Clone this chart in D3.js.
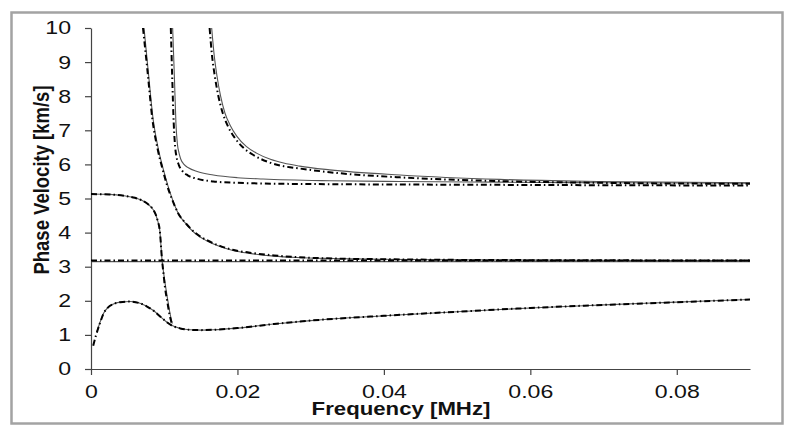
<!DOCTYPE html>
<html>
<head>
<meta charset="utf-8">
<script src="https://cdn.jsdelivr.net/npm/d3@7"></script>
<style>
  body { margin: 0; background: #fff; }
  svg { display: block; }
  text { font-family: "Liberation Sans", Arial, sans-serif; fill: #111; }
</style>
</head>
<body>
<svg id="chart"></svg>
<script>
var svg_width = 795
var svg_height = 435

// axis ticks
var xTicks = [0, 0.02, 0.04, 0.06, 0.08]
var yTicks = [0, 1, 2, 3, 4, 5, 6, 7, 8, 9, 10]

// fundamental mode (rises to ~2, dips, then slow rise)
var m1Freq = [0.0008, 0.0012, 0.0017, 0.0023, 0.0030, 0.0040, 0.0053, 0.0065, 0.0076, 0.0086, 0.0094, 0.0102, 0.0110, 0.0122, 0.0135, 0.0150, 0.0167, 0.020, 0.025, 0.030, 0.040, 0.050, 0.060, 0.070, 0.080, 0.090]
var m1Vel  = [1.09, 1.35, 1.63, 1.80, 1.90, 1.96, 1.98, 1.94, 1.84, 1.70, 1.55, 1.40, 1.28, 1.19, 1.15, 1.14, 1.15, 1.20, 1.32, 1.42, 1.56, 1.68, 1.79, 1.88, 1.96, 2.04]
var m1FreqDD = [0.0003, 0.0007, 0.0012, 0.0017, 0.0023, 0.0030, 0.0040, 0.0053, 0.0065, 0.0076, 0.0086, 0.0094, 0.0102, 0.0110, 0.0122, 0.0135, 0.0150, 0.0167, 0.020, 0.025, 0.030, 0.040, 0.050, 0.060, 0.070, 0.080, 0.090]
var m1VelDD  = [0.68, 1.00, 1.33, 1.62, 1.80, 1.90, 1.96, 1.98, 1.94, 1.84, 1.70, 1.55, 1.40, 1.28, 1.19, 1.15, 1.14, 1.15, 1.20, 1.32, 1.42, 1.56, 1.68, 1.79, 1.88, 1.96, 2.04]

// mode starting at 5.13, dropping sharply
var m2Freq = [0, 0.0025, 0.0045, 0.0060, 0.0070, 0.0078, 0.0084, 0.0088, 0.0091, 0.0094, 0.0097, 0.0099, 0.0102, 0.0105, 0.0108, 0.0111]
var m2Vel  = [5.13, 5.12, 5.08, 5.02, 4.94, 4.83, 4.70, 4.55, 4.35, 4.05, 3.20, 2.85, 2.40, 2.00, 1.62, 1.33]
var m2FreqDD = [0, 0.0025, 0.0045, 0.0060, 0.0070, 0.0078, 0.0084, 0.0088, 0.0091, 0.0094, 0.0097, 0.0099, 0.0101, 0.0104, 0.0107, 0.0110]
var m2VelDD  = [5.13, 5.12, 5.08, 5.02, 4.94, 4.83, 4.70, 4.55, 4.35, 4.05, 3.20, 2.80, 2.40, 2.00, 1.62, 1.36]

// flat line near shear velocity
var hFreq = [0, 0.09]
var hVel = [3.15, 3.15]
var hVelDD = [3.18, 3.18]

// mode 3 (from top, down to ~3.2)
var m3Freq = [0.00724, 0.0078, 0.0085, 0.0092, 0.0099, 0.0105, 0.01115, 0.0119, 0.0130, 0.0142, 0.0158, 0.0176, 0.0195, 0.0217, 0.025, 0.0281, 0.033, 0.0395, 0.050, 0.065, 0.090]
var m3Vel  = [10, 8.77, 7.30, 6.45, 5.84, 5.38, 4.96, 4.57, 4.25, 3.98, 3.76, 3.59, 3.47, 3.39, 3.31, 3.27, 3.24, 3.22, 3.20, 3.19, 3.18]
var m3FreqDD = [0.0071, 0.0077, 0.0084, 0.0091, 0.0098, 0.0104, 0.0111, 0.0119, 0.0130, 0.0142, 0.0158, 0.0176, 0.0195, 0.0217, 0.025, 0.0281, 0.033, 0.0395, 0.050, 0.065, 0.090]
var m3VelDD  = [10, 8.77, 7.30, 6.45, 5.84, 5.38, 4.96, 4.57, 4.26, 4.00, 3.78, 3.61, 3.49, 3.41, 3.33, 3.28, 3.24, 3.22, 3.20, 3.19, 3.18]

// mode 4
var m4Freq = [0.01115, 0.0114, 0.0116, 0.0118, 0.0120, 0.01225, 0.0127, 0.0133, 0.0145, 0.0167, 0.020, 0.0235, 0.0326, 0.0422, 0.0558, 0.070, 0.090]
var m4Vel  = [10, 8.5, 7.2, 6.6, 6.35, 6.16, 6.00, 5.90, 5.79, 5.69, 5.61, 5.57, 5.52, 5.50, 5.48, 5.46, 5.45]
var m4FreqDD = [0.0109, 0.0111, 0.0113, 0.0115, 0.0117, 0.0120, 0.0125, 0.0132, 0.0145, 0.0167, 0.020, 0.0235, 0.0326, 0.0422, 0.0558, 0.070, 0.090]
var m4VelDD  = [10, 8.5, 7.2, 6.5, 6.2, 5.98, 5.80, 5.68, 5.58, 5.50, 5.46, 5.44, 5.42, 5.41, 5.40, 5.39, 5.38]

// mode 5
var m5Freq = [0.01648, 0.0168, 0.0172, 0.0177, 0.0183, 0.0190, 0.0199, 0.0212, 0.0226, 0.0245, 0.0263, 0.0285, 0.0326, 0.0422, 0.0558, 0.0695, 0.090]
var m5Vel  = [10, 9.25, 8.60, 8.00, 7.50, 7.15, 6.83, 6.53, 6.33, 6.15, 6.04, 5.95, 5.84, 5.69, 5.56, 5.50, 5.46]
var m5FreqDD = [0.0162, 0.0165, 0.0169, 0.0174, 0.0180, 0.0187, 0.0196, 0.0209, 0.0223, 0.0242, 0.0260, 0.0285, 0.0326, 0.0422, 0.0558, 0.0695, 0.090]
var m5VelDD  = [10, 9.25, 8.60, 8.00, 7.50, 7.12, 6.79, 6.47, 6.26, 6.07, 5.96, 5.88, 5.77, 5.62, 5.51, 5.46, 5.43]

var solidCurves = [[m1Freq, m1Vel], [m2Freq, m2Vel], [hFreq, hVel], [m3Freq, m3Vel], [m4Freq, m4Vel], [m5Freq, m5Vel]]
var dashCurves = [[m1FreqDD, m1VelDD], [m2FreqDD, m2VelDD], [hFreq, hVelDD], [m3FreqDD, m3VelDD], [m4FreqDD, m4VelDD], [m5FreqDD, m5VelDD]]

var plotLeft = 91, plotRight = 750, plotTop = 28, plotBottom = 369
var stretch = 1.25

var svg = d3.select("#chart")
.attr("width", svg_width)
.attr("height", svg_height)

// outer frame
svg.append("rect")
.attr("x", 11.5).attr("y", 12.5)
.attr("width", 771).attr("height", 411)
.attr("fill", "none")
.attr("stroke", "#a3a3a3")
.attr("stroke-width", 2.5)

var x = d3.scaleLinear().domain([0, 0.09]).range([plotLeft, plotRight])
var y = d3.scaleLinear().domain([0, 10]).range([plotBottom, plotTop])

svg.append("defs").append("clipPath").attr("id", "plotclip")
.append("rect")
.attr("x", plotLeft).attr("y", plotTop)
.attr("width", plotRight - plotLeft).attr("height", plotBottom - plotTop)

// axes
var xAxis = svg.append("g")
.attr("transform", "translate(0," + plotBottom + ")")
.call(d3.axisBottom(x).tickValues(xTicks).tickSize(6).tickSizeOuter(0)
  .tickFormat(function(d) { return d === 0 ? "0" : d3.format(".2f")(d); }))
xAxis.selectAll("text")
.attr("y", 16)
.style("font-size", "18.5px")
.attr("transform", "scale(" + stretch + ",1)")

var yAxis = svg.append("g")
.attr("transform", "translate(" + plotLeft + ",0)")
.call(d3.axisLeft(y).tickValues(yTicks).tickSize(6).tickSizeOuter(0))
yAxis.selectAll("text")
.attr("x", -20 / stretch)
.style("font-size", "18.5px")
.attr("transform", "scale(" + stretch + ",1)")

svg.selectAll(".domain, .tick line")
.attr("stroke", "#444")
.attr("stroke-width", 1.2)

// curves
var line = d3.line()
.x(function(d) { return x(d[0]); })
.y(function(d) { return y(d[1]); })
.curve(d3.curveMonotoneX)

function pairs(c) {
  return c[0].map(function(f, i) { return [f, c[1][i]]; });
}

var plot = svg.append("g").attr("clip-path", "url(#plotclip)")

plot.selectAll("path.solid")
.data(solidCurves)
.enter()
.append("path")
.attr("class", "solid")
.attr("d", function(d) { return line(pairs(d)); })
.attr("fill", "none")
.attr("stroke", "#555")
.attr("stroke-width", 1.1)

plot.selectAll("path.dd")
.data(dashCurves)
.enter()
.append("path")
.attr("class", "dd")
.attr("d", function(d) { return line(pairs(d)); })
.attr("fill", "none")
.attr("stroke", "#000")
.attr("stroke-width", 2)
.attr("stroke-dasharray", "6,3,1.5,3")

// axis titles
svg.append("text")
.attr("transform", "translate(401,415) scale(1.2,1)")
.attr("text-anchor", "middle")
.style("font-size", "18.5px")
.style("font-weight", "bold")
.text("Frequency [MHz]")

svg.append("text")
.attr("transform", "translate(49,180) rotate(-90) scale(1,1.2)")
.attr("text-anchor", "middle")
.style("font-size", "18.5px")
.style("font-weight", "bold")
.text("Phase Velocity [km/s]")
</script>
</body>
</html>
